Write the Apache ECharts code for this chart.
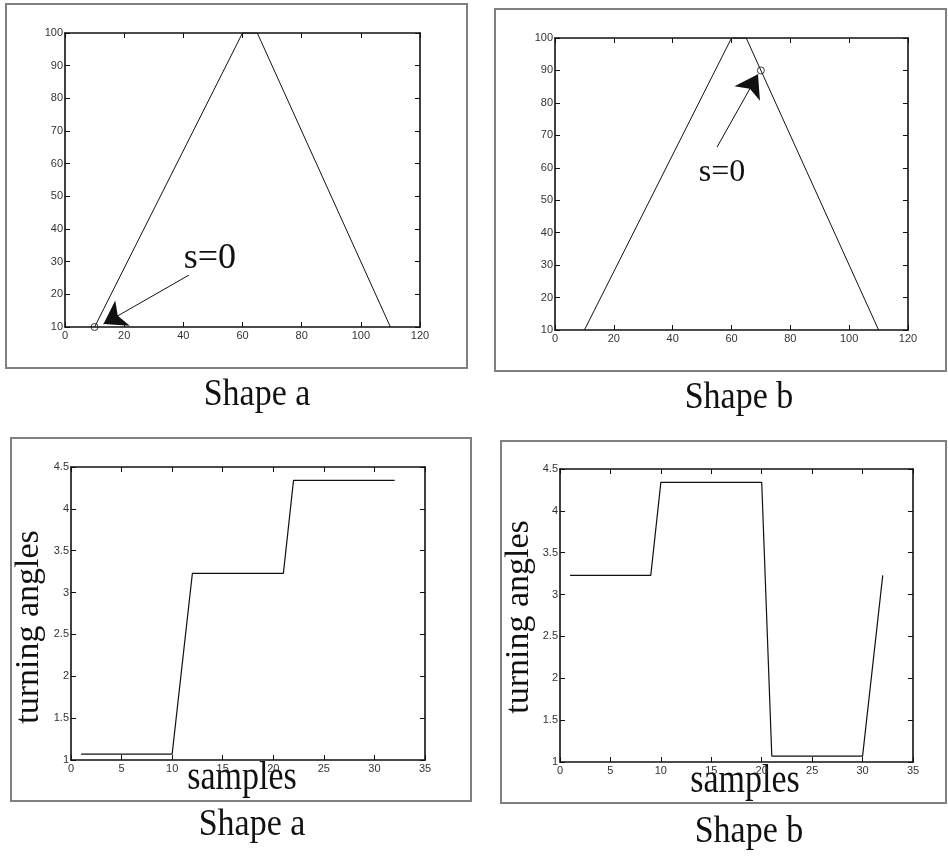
<!DOCTYPE html>
<html>
<head>
<meta charset="utf-8">
<title>Shape a / Shape b</title>
<script src="https://cdn.jsdelivr.net/npm/echarts@6/dist/echarts.min.js"></script>
<style>
  html, body { margin: 0; padding: 0; background: #fff; }
  #chart { width: 948px; height: 860px; }
</style>
</head>
<body>
<div id="chart"></div>
<script>
// triangle outline (same for both shapes), x / y of the vertices
var shapeX = [10, 60, 65, 110];
var shapeY = [10, 100, 100, 10];

// where s=0 sits on each shape
var startA = [10, 10];
var startB = [70, 90];

// annotation arrows (tail -> tip) and label spots, in data units
var arrowA = [[41.9, 25.9], [13, 10.9]];
var arrowB = [[55.1, 66.4], [69, 88.8]];
var labelA = [49, 31];
var labelB = [56.8, 58.4];

// turning angles vs samples
var samplesA = [1, 10, 12, 21, 22, 32];
var anglesA = [1.07, 1.07, 3.23, 3.23, 4.34, 4.34];
var samplesB = [1, 9, 10, 20, 21, 30, 32];
var anglesB = [3.23, 3.23, 4.34, 4.34, 1.07, 1.07, 3.23];

// axis ticks
var shapeXTicks = { min: 0, max: 120, interval: 20 };
var shapeYTicks = { min: 10, max: 100, interval: 10 };
var sampleTicks = { min: 0, max: 35, interval: 5 };
var angleTicks = { min: 1, max: 4.5, interval: 0.5 };

function pairs(xs, ys) {
  var out = [];
  for (var i = 0; i < xs.length; i++) out.push([xs[i], ys[i]]);
  return out;
}

var tickFont = { fontSize: 11, color: '#333', fontFamily: '"Liberation Sans", Arial, sans-serif' };
var serif = '"Liberation Serif", "Times New Roman", serif';

function xAxes(grid, t) {
  return [{
    type: 'value', gridIndex: grid, position: 'bottom',
    min: t.min, max: t.max, interval: t.interval,
    axisLine: { show: true, onZero: false, lineStyle: { color: '#111', width: 1.6 } },
    axisTick: { inside: true, length: 5, lineStyle: { color: '#111' } },
    axisLabel: Object.assign({ margin: 3 }, tickFont),
    splitLine: { show: false }
  }, {
    type: 'value', gridIndex: grid, position: 'top',
    min: t.min, max: t.max, interval: t.interval,
    axisLine: { show: true, onZero: false, lineStyle: { color: '#111', width: 1.6 } },
    axisTick: { inside: true, length: 5, lineStyle: { color: '#111' } },
    axisLabel: { show: false },
    splitLine: { show: false }
  }];
}

function yAxes(grid, t) {
  return [{
    type: 'value', gridIndex: grid, position: 'left',
    min: t.min, max: t.max, interval: t.interval,
    axisLine: { show: true, onZero: false, lineStyle: { color: '#111', width: 1.6 } },
    axisTick: { inside: true, length: 5, lineStyle: { color: '#111' } },
    axisLabel: Object.assign({ margin: 2 }, tickFont),
    splitLine: { show: false }
  }, {
    type: 'value', gridIndex: grid, position: 'right',
    min: t.min, max: t.max, interval: t.interval,
    axisLine: { show: true, onZero: false, lineStyle: { color: '#111', width: 1.6 } },
    axisTick: { inside: true, length: 5, lineStyle: { color: '#111' } },
    axisLabel: { show: false },
    splitLine: { show: false }
  }];
}

function startSeries(grid, point, arrow, labelPos, labelSize) {
  return {
    type: 'scatter', xAxisIndex: grid * 2, yAxisIndex: grid * 2,
    data: [point], symbol: 'circle', symbolSize: 7, z: 3,
    itemStyle: { color: 'rgba(255,255,255,0)', borderColor: '#111', borderWidth: 1 },
    silent: true,
    markLine: {
      silent: true, animation: false,
      symbol: ['none', 'arrow'], symbolSize: 22,
      itemStyle: { color: '#111' },
      label: { show: false },
      lineStyle: { type: 'solid', color: '#111', width: 1 },
      data: [[{ coord: arrow[0] }, { coord: arrow[1] }]]
    },
    markPoint: {
      silent: true, animation: false,
      symbol: 'circle', symbolSize: 1,
      itemStyle: { color: 'rgba(0,0,0,0)' },
      label: { show: true, position: 'inside', formatter: 's=0', fontSize: labelSize, fontFamily: serif, color: '#111' },
      data: [{ coord: labelPos }]
    }
  };
}

function lineSeries(grid, xs, ys, width) {
  return {
    type: 'line', xAxisIndex: grid * 2, yAxisIndex: grid * 2,
    data: pairs(xs, ys), showSymbol: false, silent: true,
    lineStyle: { color: '#111', width: width }
  };
}

function frame(x, y, w, h) {
  return { type: 'rect', shape: { x: x, y: y, width: w, height: h }, style: { fill: 'none', stroke: '#808080', lineWidth: 2 } };
}

function bigText(txt, x, y, rot, sy) {
  return {
    type: 'text', x: x, y: y, rotation: rot || 0, scaleY: sy || 1,
    style: { text: txt, fontSize: 34, fontFamily: serif, fill: '#111', align: 'center', verticalAlign: 'middle' }
  };
}

var option = {
  backgroundColor: '#fff',
  animation: false,
  grid: [
    { left: 65, top: 33, width: 355, height: 294 },
    { left: 555, top: 38, width: 353, height: 292 },
    { left: 71, top: 467, width: 354, height: 293 },
    { left: 560, top: 469, width: 353, height: 293 }
  ],
  xAxis: [].concat(xAxes(0, shapeXTicks), xAxes(1, shapeXTicks), xAxes(2, sampleTicks), xAxes(3, sampleTicks)),
  yAxis: [].concat(yAxes(0, shapeYTicks), yAxes(1, shapeYTicks), yAxes(2, angleTicks), yAxes(3, angleTicks)),
  series: [
    lineSeries(0, shapeX, shapeY, 1),
    startSeries(0, startA, arrowA, labelA, 36),
    lineSeries(1, shapeX, shapeY, 1),
    startSeries(1, startB, arrowB, labelB, 32),
    lineSeries(2, samplesA, anglesA, 1.2),
    lineSeries(3, samplesB, anglesB, 1.2)
  ],
  graphic: [
    frame(6, 4, 461, 364),
    frame(495, 9, 451, 362),
    frame(11, 438, 460, 363),
    frame(501, 441, 445, 362),
    bigText('Shape a', 257, 395, 0, 1.1),
    bigText('Shape b', 739, 398, 0, 1.1),
    bigText('Shape a', 252, 825, 0, 1.1),
    bigText('Shape b', 749, 832, 0, 1.1),
    bigText('samples', 242, 778, 0, 1.2),
    bigText('samples', 745, 781, 0, 1.2),
    bigText('turning angles', 29, 627, Math.PI / 2),
    bigText('turning angles', 519, 617, Math.PI / 2)
  ]
};

var myChart = echarts.init(document.getElementById('chart'));
myChart.setOption(option);
window.addEventListener('resize', function () {
  myChart.resize();
});
</script>
</body>
</html>
